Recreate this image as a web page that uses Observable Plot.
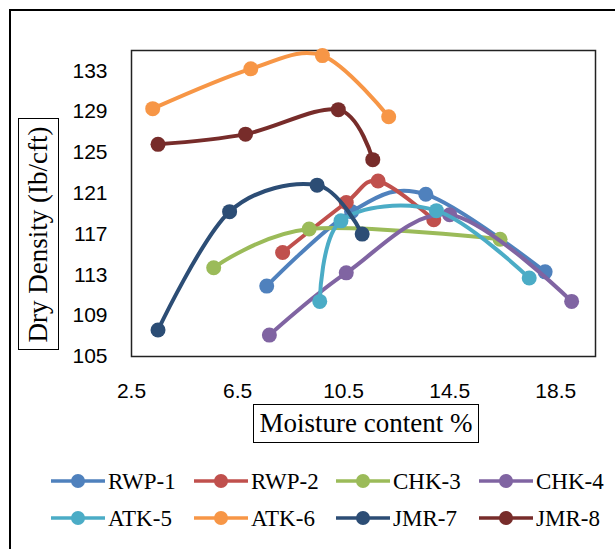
<!DOCTYPE html>
<html><head><meta charset="utf-8">
<script src="https://cdn.jsdelivr.net/npm/d3@7"></script>
<script src="https://cdn.jsdelivr.net/npm/@observablehq/plot@0.6"></script>
<style>
html,body{margin:0;padding:0;background:#fff;overflow:hidden;}
#wrap{position:relative;width:615px;height:549px;overflow:hidden;background:#fff;}
#outer{position:absolute;left:9px;top:9px;width:650px;height:600px;border:2px solid #000;box-sizing:border-box;}
#chart{position:absolute;left:0;top:0;}
.tbox{position:absolute;border:1.5px solid #000;box-sizing:border-box;font-family:"Liberation Serif","Times New Roman",serif;font-size:27px;color:#000;display:flex;align-items:center;justify-content:center;white-space:nowrap;background:#fff;}
#xt{left:253px;top:404px;width:226px;height:39px;}
#yt{left:18px;top:118px;width:41px;height:232px;}
#yt span{display:block;transform:rotate(-90deg);}
#legend{position:absolute;left:0;top:455px;}
</style>
</head><body>
<div id="wrap">
  <div id="outer"></div>
  <div id="chart"></div>
  <div class="tbox" id="xt">Moisture content %</div>
  <div class="tbox" id="yt"><span>Dry Density (Ib/cft)</span></div>
  <svg id="legend" width="615" height="90"></svg>
</div>
<script>
const seriesNames = ["RWP-1","RWP-2","CHK-3","CHK-4","ATK-5","ATK-6","JMR-7","JMR-8"];
const seriesColors = ["#4F81BD","#C0504D","#9BBB59","#8064A2","#4BACC6","#F79646","#2C4D75","#772C2A"];
const moisture = {
  "RWP-1": [7.6, 10.8, 13.6, 18.1],
  "RWP-2": [8.2, 10.6, 11.8, 13.9],
  "CHK-3": [5.6, 9.2, 16.4],
  "CHK-4": [7.7, 10.6, 14.5, 19.1],
  "ATK-5": [9.6, 10.4, 14.0, 17.5],
  "ATK-6": [3.3, 7.0, 9.7, 12.2],
  "JMR-7": [3.5, 6.2, 9.5, 11.2],
  "JMR-8": [3.5, 6.8, 10.3, 11.6]
};
const density = {
  "RWP-1": [111.9, 119.2, 120.9, 113.3],
  "RWP-2": [115.2, 120.1, 122.2, 118.4],
  "CHK-3": [113.7, 117.5, 116.5],
  "CHK-4": [107.1, 113.2, 118.9, 110.4],
  "ATK-5": [110.4, 118.3, 119.3, 112.7],
  "ATK-6": [129.3, 133.2, 134.5, 128.5],
  "JMR-7": [107.6, 119.2, 121.8, 117.0],
  "JMR-8": [125.8, 126.8, 129.2, 124.3]
};
const xTicks = [2.5, 6.5, 10.5, 14.5, 18.5];
const yTicks = [105, 109, 113, 117, 121, 125, 129, 133];

const rows = seriesNames.map(s => moisture[s].map((x, i) => ({series: s, x, y: density[s][i]})));

const marks = [Plot.frame({stroke: "#222", strokeWidth: 1.5})];
rows.forEach(r => {
  marks.push(Plot.line(r, {x: "x", y: "y", stroke: "series", strokeWidth: 4, curve: "cardinal", tension: 0}));
  marks.push(Plot.dot(r, {x: "x", y: "y", fill: "series", r: 7.5}));
});
marks.push(Plot.axisX({ticks: xTicks, tickSize: 0, tickPadding: 27, tickFormat: d => String(d), label: null}));
marks.push(Plot.axisY({ticks: yTicks, tickSize: 0, tickPadding: 24, label: null}));

const chart = Plot.plot({
  width: 615, height: 460,
  marginLeft: 131, marginRight: 20, marginTop: 50, marginBottom: 104,
  x: {domain: [2.5, 20]},
  y: {domain: [105, 135]},
  color: {domain: seriesNames, range: seriesColors},
  style: {fontFamily: "'Liberation Sans', Arial, sans-serif", fontSize: "21px", color: "#000", background: "transparent", overflow: "visible"},
  marks
});
document.getElementById("chart").appendChild(chart);

// legend
const lg = d3.select("#legend");
const colX = [51, 194, 336, 479];
const rowY = [26, 63];
seriesNames.forEach((s, i) => {
  const g = lg.append("g").attr("transform", `translate(${colX[i % 4]},${rowY[Math.floor(i / 4)]})`);
  g.append("line").attr("x1", 0).attr("x2", 54).attr("y1", 0).attr("y2", 0).attr("stroke", seriesColors[i]).attr("stroke-width", 3.5);
  g.append("circle").attr("cx", 27).attr("cy", 0).attr("r", 7).attr("fill", seriesColors[i]);
  g.append("text").attr("x", 57).attr("y", 0).attr("dy", "0.35em").attr("font-family", "'Liberation Serif','Times New Roman',serif").attr("font-size", 23).attr("fill", "#000").text(s);
});
</script>
</body></html>
